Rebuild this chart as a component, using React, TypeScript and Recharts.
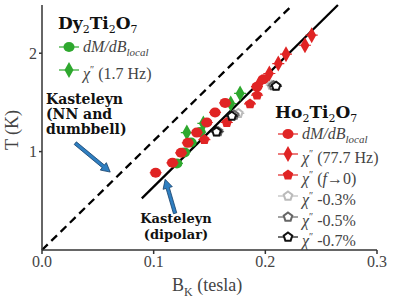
import React from "react";
import {
  ScatterChart,
  Scatter,
  XAxis,
  YAxis,
  ReferenceLine,
} from "recharts";

// B_K (tesla) vs T (K)
const dyDmdb = [
  { b: 0.1208, t: 0.88 },
  { b: 0.1276, t: 0.992 },
  { b: 0.1335, t: 1.093 },
  { b: 0.1416, t: 1.198 },
];
const dyChi17 = [
  { b: 0.1297, t: 1.193 },
  { b: 0.1445, t: 1.286 },
  { b: 0.169, t: 1.489 },
  { b: 0.1774, t: 1.591 },
];
const hoDmdb = [
  { b: 0.1018, t: 0.785 },
  { b: 0.1168, t: 0.886 },
  { b: 0.1246, t: 0.988 },
  { b: 0.1306, t: 1.089 },
  { b: 0.1386, t: 1.193 },
  { b: 0.1476, t: 1.296 },
  { b: 0.155, t: 1.398 },
  { b: 0.164, t: 1.495 },
  { b: 0.1925, t: 1.66 },
  { b: 0.1985, t: 1.735 },
];
const hoChi777 = [
  { b: 0.1946, t: 1.692 },
  { b: 0.2036, t: 1.794 },
  { b: 0.2116, t: 1.895 },
  { b: 0.2185, t: 1.99 },
  { b: 0.2355, t: 2.081 },
  { b: 0.2415, t: 2.183 },
];
const hoChiF0 = [
  { b: 0.1454, t: 1.122 },
  { b: 0.1655, t: 1.296 },
  { b: 0.1863, t: 1.485 },
  { b: 0.1926, t: 1.574 },
];
const hoChi03 = [
  { b: 0.1758, t: 1.388 },
  { b: 0.2057, t: 1.675 },
];
const hoChi05 = [
  { b: 0.1577, t: 1.203 },
  { b: 0.172, t: 1.371 },
  { b: 0.2073, t: 1.67 },
];
const hoChi07 = [
  { b: 0.1563, t: 1.201 },
  { b: 0.17, t: 1.36 },
  { b: 0.2096, t: 1.665 },
];

// Kasteleyn lines and annotation arrows
const kastNN = [
  { x: 0, y: 0 },
  { x: 0.2243, y: 2.49 },
];
const kastDipolar = [
  { x: 0.0894, y: 0.525 },
  { x: 0.265, y: 2.49 },
];
const arrowNN = [
  { x: 0.0298, y: 1.086 },
  { x: 0.0611, y: 0.792 },
];
const arrowDipolar = [
  { x: 0.1192, y: 0.373 },
  { x: 0.1103, y: 0.718 },
];

const xTicks = [0, 0.1, 0.2, 0.3];
const yTicks = [1, 2];

const RED = "#e02424";
const GREEN = "#2ea82e";
const serif = "'Liberation Serif', serif";
const boldSerif = "'DejaVu Serif', serif";

const pentagon = (cx: number, cy: number, r: number) =>
  [0, 1, 2, 3, 4]
    .map((i) => {
      const a = -Math.PI / 2 + (i * 2 * Math.PI) / 5;
      return `${cx + r * Math.cos(a)},${cy + r * Math.sin(a)}`;
    })
    .join(" ");

const Dot = ({ cx, cy, color, bar = 6 }: any) => (
  <g>
    <line x1={cx - bar} y1={cy} x2={cx + bar} y2={cy} stroke={color} strokeWidth={1.2} />
    <ellipse cx={cx} cy={cy} rx={5.5} ry={5} fill={color} />
  </g>
);

const Diamond = ({ cx, cy, color, bar = 6 }: any) => (
  <g>
    <line x1={cx - bar} y1={cy} x2={cx + bar} y2={cy} stroke={color} strokeWidth={1.2} />
    <polygon
      points={`${cx},${cy - 8} ${cx + 4.5},${cy} ${cx},${cy + 8} ${cx - 4.5},${cy}`}
      fill={color}
    />
  </g>
);

const Pent = ({ cx, cy, color, hollow, bar = 6 }: any) => (
  <g>
    <line x1={cx - bar} y1={cy} x2={cx + bar} y2={cy} stroke={color} strokeWidth={1.2} />
    {hollow ? (
      <polygon points={pentagon(cx, cy, 4.5)} fill="#fff" stroke={color} strokeWidth={2} />
    ) : (
      <polygon points={pentagon(cx, cy, 5.5)} fill={color} />
    )}
  </g>
);

const Arrow = (p: any) => {
  const { x1, y1, x2, y2 } = p;
  const dx = x2 - x1;
  const dy = y2 - y1;
  const len = Math.sqrt(dx * dx + dy * dy);
  const ux = dx / len;
  const uy = dy / len;
  const vx = -uy;
  const vy = ux;
  const hl = 9;
  const sw = 1.7;
  const hw = 4.8;
  const pt = (u: number, v: number) => `${x1 + ux * u + vx * v},${y1 + uy * u + vy * v}`;
  const pts = [
    pt(0, -sw),
    pt(len - hl, -sw),
    pt(len - hl, -hw),
    pt(len, 0),
    pt(len - hl, hw),
    pt(len - hl, sw),
    pt(0, sw),
  ].join(" ");
  return <polygon points={pts} fill="#2f7fc1" stroke="#17406a" strokeWidth={0.8} />;
};

const Marker = ({ kind, color }: { kind: string; color: string }) => (
  <svg width={22} height={18} style={{ position: "absolute", left: 0, top: -9 }}>
    {kind === "dot" && <Dot cx={11} cy={9} color={color} bar={10} />}
    {kind === "diamond" && <Diamond cx={11} cy={9} color={color} bar={10} />}
    {kind === "pent" && <Pent cx={11} cy={9} color={color} bar={10} />}
    {kind === "hollow" && <Pent cx={11} cy={9} color={color} hollow bar={10} />}
  </svg>
);

const LegendRow = ({ left, cy, kind, color, children }: any) => (
  <div style={{ position: "absolute", left, top: cy, height: 0 }}>
    <Marker kind={kind} color={color} />
    <div
      style={{
        position: "absolute",
        left: 25,
        top: -10,
        lineHeight: "20px",
        whiteSpace: "nowrap",
        fontFamily: serif,
        fontSize: 16,
        color: "#444",
      }}
    >
      {children}
    </div>
  </div>
);

const chi = (
  <>
    <i>χ</i>
    <sup style={{ fontSize: 10 }}>″</sup>
  </>
);
const dmdb = (
  <i>
    dM/dB<sub style={{ fontSize: 11 }}>local</sub>
  </i>
);

const App = () => {
  return (
    <div style={{ position: "absolute", left: 0, top: 0, width: 395, height: 301, background: "#fff" }}>
      <ScatterChart width={395} height={301} margin={{ top: 5, right: 18, left: 0, bottom: 21 }}>
        <XAxis
          type="number"
          dataKey="b"
          domain={[0, 0.3]}
          ticks={xTicks}
          tickFormatter={(v: number) => v.toFixed(1)}
          height={30}
          tickSize={4}
          tickMargin={2}
          stroke="#333"
          strokeWidth={1.5}
          tick={{ fontSize: 16, fill: "#444", fontFamily: serif }}
        />
        <XAxis
          xAxisId="top"
          orientation="top"
          type="number"
          domain={[0, 0.3]}
          height={0}
          tick={false}
          tickLine={false}
          stroke="#333"
          strokeWidth={1.5}
        />
        <YAxis
          type="number"
          dataKey="t"
          domain={[0, 2.49]}
          allowDataOverflow
          ticks={yTicks}
          width={42}
          tickSize={3}
          tickMargin={2}
          stroke="#333"
          strokeWidth={1.5}
          tick={{ fontSize: 16, fill: "#444", fontFamily: serif }}
        />
        <YAxis
          yAxisId="right"
          orientation="right"
          type="number"
          domain={[0, 2.49]}
          width={0}
          tick={false}
          tickLine={false}
          stroke="#333"
          strokeWidth={1.5}
        />
        <ReferenceLine segment={kastNN} stroke="#000" strokeWidth={2.3} strokeDasharray="8 5" />
        <ReferenceLine segment={kastDipolar} stroke="#000" strokeWidth={2.3} />
        <ReferenceLine segment={arrowNN} shape={Arrow} />
        <ReferenceLine segment={arrowDipolar} shape={Arrow} />
        <Scatter data={dyDmdb} isAnimationActive={false} shape={(p: any) => <Dot cx={p.cx} cy={p.cy} color={GREEN} />} />
        <Scatter data={dyChi17} isAnimationActive={false} shape={(p: any) => <Diamond cx={p.cx} cy={p.cy} color={GREEN} />} />
        <Scatter data={hoDmdb} isAnimationActive={false} shape={(p: any) => <Dot cx={p.cx} cy={p.cy} color={RED} />} />
        <Scatter data={hoChi777} isAnimationActive={false} shape={(p: any) => <Diamond cx={p.cx} cy={p.cy} color={RED} />} />
        <Scatter data={hoChiF0} isAnimationActive={false} shape={(p: any) => <Pent cx={p.cx} cy={p.cy} color={RED} />} />
        <Scatter data={hoChi03} isAnimationActive={false} shape={(p: any) => <Pent cx={p.cx} cy={p.cy} color="#bbb" hollow />} />
        <Scatter data={hoChi05} isAnimationActive={false} shape={(p: any) => <Pent cx={p.cx} cy={p.cy} color="#666" hollow />} />
        <Scatter data={hoChi07} isAnimationActive={false} shape={(p: any) => <Pent cx={p.cx} cy={p.cy} color="#111" hollow />} />
      </ScatterChart>

      <div style={{ position: "absolute", inset: 0, pointerEvents: "none" }}>
        {/* Dy2Ti2O7 legend */}
        <div style={{ position: "absolute", left: 58, top: 12, fontFamily: boldSerif, fontWeight: "bold", fontSize: 17, lineHeight: "22px", color: "#111" }}>
          Dy<sub style={{ fontSize: 11, fontWeight: "normal" }}>2</sub>Ti<sub style={{ fontSize: 11, fontWeight: "normal" }}>2</sub>O<sub style={{ fontSize: 11, fontWeight: "normal" }}>7</sub>
        </div>
        <LegendRow left={58} cy={47} kind="dot" color={GREEN}>{dmdb}</LegendRow>
        <LegendRow left={58} cy={70} kind="diamond" color={GREEN}>{chi} (1.7 Hz)</LegendRow>

        {/* Ho2Ti2O7 legend */}
        <div style={{ position: "absolute", left: 275, top: 101, fontFamily: boldSerif, fontWeight: "bold", fontSize: 17, lineHeight: "22px", color: "#111" }}>
          Ho<sub style={{ fontSize: 11, fontWeight: "normal" }}>2</sub>Ti<sub style={{ fontSize: 11, fontWeight: "normal" }}>2</sub>O<sub style={{ fontSize: 11, fontWeight: "normal" }}>7</sub>
        </div>
        <LegendRow left={277} cy={134} kind="dot" color={RED}>{dmdb}</LegendRow>
        <LegendRow left={277} cy={154} kind="diamond" color={RED}>{chi} (77.7 Hz)</LegendRow>
        <LegendRow left={277} cy={175} kind="pent" color={RED}>{chi} (<i>f</i>→0)</LegendRow>
        <LegendRow left={277} cy={196} kind="hollow" color="#bbb">{chi} -0.3%</LegendRow>
        <LegendRow left={277} cy={217} kind="hollow" color="#666">{chi} -0.5%</LegendRow>
        <LegendRow left={277} cy={237} kind="hollow" color="#111">{chi} -0.7%</LegendRow>

        {/* annotations */}
        <div style={{ position: "absolute", left: 46, top: 92, fontFamily: boldSerif, fontWeight: "bold", fontSize: 14, lineHeight: "15px", color: "#111" }}>
          Kasteleyn<br />(NN and<br />dumbbell)
        </div>
        <div style={{ position: "absolute", left: 126, width: 100, top: 211, textAlign: "center", fontFamily: boldSerif, fontWeight: "bold", fontSize: 13, lineHeight: "16px", color: "#111" }}>
          Kasteleyn<br />(dipolar)
        </div>

        {/* axis titles */}
        <div style={{ position: "absolute", left: 172, top: 274, fontFamily: serif, fontSize: 18, lineHeight: "22px", color: "#444", whiteSpace: "nowrap" }}>
          B<sub style={{ fontSize: 12 }}>K</sub> (tesla)
        </div>
        <div
          style={{
            position: "absolute",
            left: 12,
            top: 130,
            transform: "translate(-50%, -50%) rotate(-90deg)",
            fontFamily: serif,
            fontSize: 18,
            lineHeight: "22px",
            color: "#444",
            whiteSpace: "nowrap",
          }}
        >
          T (K)
        </div>
      </div>
    </div>
  );
};

export default App;
